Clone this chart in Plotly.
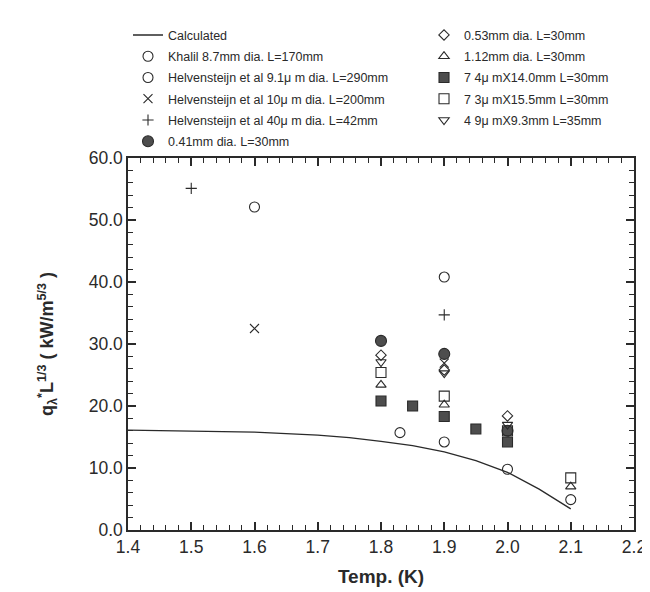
import plotly.graph_objects as go

# ---- data ----
calc_T = [1.4, 1.5, 1.6, 1.7, 1.75, 1.8, 1.85, 1.9, 1.95, 2.0, 2.05, 2.1]
calc_q = [16.1, 16.0, 15.8, 15.3, 14.9, 14.3, 13.6, 12.6, 11.2, 9.3, 6.6, 3.4]

khalil_T = [1.83, 1.9, 2.0, 2.1]
khalil_q = [15.7, 14.2, 9.8, 4.9]

h91_T = [1.6, 1.9]
h91_q = [52.1, 40.8]

h10_T = [1.6, 1.9]
h10_q = [32.5, 26.9]

h40_T = [1.5, 1.9]
h40_q = [55.1, 34.7]

d041_T = [1.8, 1.9, 2.0]
d041_q = [30.5, 28.4, 16.0]

d053_T = [1.8, 1.9, 2.0]
d053_q = [28.2, 25.8, 18.4]

d112_T = [1.8, 1.9, 2.1]
d112_q = [23.4, 20.2, 7.0]

r74_T = [1.8, 1.85, 1.9, 1.95, 2.0]
r74_q = [20.8, 20.0, 18.3, 16.3, 14.2]

r73_T = [1.8, 1.9, 2.0, 2.1]
r73_q = [25.4, 21.6, 16.0, 8.4]

r49_T = [1.8, 1.9, 2.0]
r49_q = [27.1, 25.3, 17.0]

x_range = [1.4, 2.2]
x_major, x_minor = 0.1, 0.02
y_range = [0, 60]
y_major, y_minor = 10, 2

INK = "#2a2a2a"
FILL = "#4d4d4d"
FONT = "Liberation Sans, Arial, sans-serif"

fig = go.Figure()

fig.add_trace(go.Scatter(x=calc_T, y=calc_q, mode="lines", name="Calculated",
                         line=dict(color=INK, width=1.3), legend="legend",
                         legendgroup="a"))

def pts(x, y, name, symbol, legend, group, filled=False, size=10):
    fig.add_trace(go.Scatter(
        x=x, y=y, mode="markers", name=name, legend=legend, legendgroup=group,
        marker=dict(symbol=symbol, size=size,
                    color=FILL if filled else INK,
                    line=dict(color=INK, width=1.1))))

pts(khalil_T, khalil_q, "Khalil 8.7mm dia. L=170mm", "circle-open", "legend", "b")
pts(h91_T, h91_q, "Helvensteijn et al 9.1\u03bc m dia. L=290mm", "circle-open", "legend", "c")
pts(h10_T, h10_q, "Helvensteijn et al 10\u03bc m dia. L=200mm", "x-thin-open", "legend", "d", size=9)
pts(h40_T, h40_q, "Helvensteijn et al 40\u03bc m dia. L=42mm", "cross-thin-open", "legend", "e", size=8)
pts(d041_T, d041_q, "0.41mm dia. L=30mm", "circle", "legend", "f", filled=True, size=11)
pts(d053_T, d053_q, "0.53mm dia. L=30mm", "diamond-open", "legend2", "g", size=8)
pts(d112_T, d112_q, "1.12mm dia. L=30mm", "triangle-up-open", "legend2", "h", size=9)
pts(r74_T, r74_q, "7 4\u03bc mX14.0mm L=30mm", "square", "legend2", "i", filled=True, size=10)
pts(r73_T, r73_q, "7 3\u03bc mX15.5mm L=30mm", "square-open", "legend2", "j", size=10)
pts(r49_T, r49_q, "4 9\u03bc mX9.3mm L=35mm", "triangle-down-open", "legend2", "k", size=9)

fig.update_layout(
    width=650, height=592,
    margin=dict(l=120, r=19, t=145, b=70),
    paper_bgcolor="white", plot_bgcolor="white",
    font=dict(family=FONT, color=INK),
    xaxis=dict(range=x_range, tickmode="linear", tick0=x_range[0], dtick=x_major,
               tickformat=".1f",
               showline=True, linecolor=INK, linewidth=1.5, mirror="ticks",
               ticks="inside", tickcolor=INK, tickwidth=1.5, ticklen=8,
               minor=dict(ticks="inside", ticklen=5, dtick=x_minor, tickcolor=INK, tickwidth=1.2),
               showgrid=False, zeroline=False,
               tickfont=dict(family=FONT, size=17.5, color=INK),
               title=dict(text="<b>Temp. (K)</b>", font=dict(family=FONT, size=19, color=INK),
                          standoff=14)),
    yaxis=dict(range=y_range, tickmode="linear", tick0=y_range[0], dtick=y_major,
               tickformat=".1f",
               showline=True, linecolor=INK, linewidth=1.5, mirror="ticks",
               ticks="inside", tickcolor=INK, tickwidth=1.5, ticklen=8,
               minor=dict(ticks="inside", ticklen=5, dtick=y_minor, tickcolor=INK, tickwidth=1.2),
               showgrid=False, zeroline=False,
               tickfont=dict(family=FONT, size=17.5, color=INK),
               title=dict(text="<b>q<sub>\u03bb</sub><sup>*</sup>L<sup>1/3</sup> ( kW/m<sup>5/3</sup> )</b>",
                          font=dict(family=FONT, size=18, color=INK), standoff=30)),
    legend=dict(x=0.0, y=1.37, xanchor="left", yanchor="top",
                bgcolor="rgba(0,0,0,0)", tracegroupgap=2,
                font=dict(family=FONT, size=12.5, color=INK)),
    legend2=dict(x=0.585, y=1.37, xanchor="left", yanchor="top",
                 bgcolor="rgba(0,0,0,0)", tracegroupgap=2,
                 font=dict(family=FONT, size=12.5, color=INK)),
)

fig.write_html("out.html")
